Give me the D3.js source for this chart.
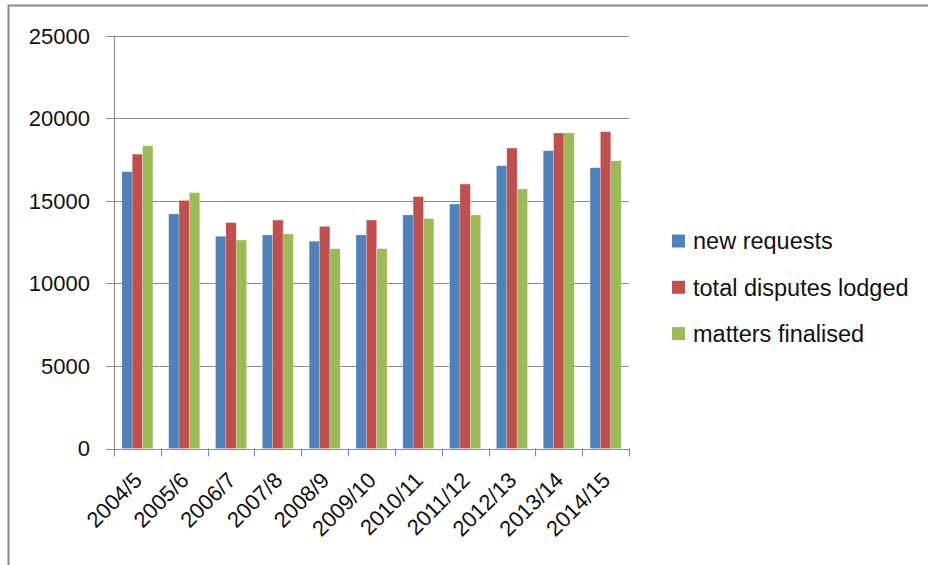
<!DOCTYPE html>
<html>
<head>
<meta charset="utf-8">
<script src="https://cdn.jsdelivr.net/npm/d3@7/dist/d3.min.js"></script>
<style>
  html, body { margin: 0; padding: 0; background: #fff; }
  svg { display: block; font-family: "Liberation Sans", Arial, sans-serif; }
</style>
</head>
<body>
<svg id="chart" width="928" height="565"></svg>
<script>
// Financial years shown on the x axis
const years = ["2004/5", "2005/6", "2006/7", "2007/8", "2008/9", "2009/10",
               "2010/11", "2011/12", "2012/13", "2013/14", "2014/15"];

// Series names and values
const seriesNames = ["new requests", "total disputes lodged", "matters finalised"];
const newRequests   = [16760, 14200, 12850, 12930, 12550, 12930, 14140, 14800, 17120, 18030, 17000];
const totalDisputes = [17820, 15020, 13680, 13830, 13450, 13830, 15250, 16010, 18190, 19100, 19180];
const mattersFinal  = [18330, 15490, 12620, 12990, 12100, 12100, 13920, 14140, 15710, 19100, 17420];
const seriesColors  = ["#4F81BD", "#C0504D", "#9BBB59"];

// Y axis ticks
const yTicks = [0, 5000, 10000, 15000, 20000, 25000];

const seriesValues = [newRequests, totalDisputes, mattersFinal];

const svg = d3.select("#chart");

// Outer chart frame (top and left edges)
svg.append("path")
  .attr("d", "M8.5,565 L8.5,5.5 L928,5.5")
  .attr("fill", "none")
  .attr("stroke", "#8a8a8a")
  .attr("stroke-width", 2);

const plot = { left: 114, right: 629, top: 35.6, bottom: 448.5 };

const x0 = d3.scaleBand()
  .domain(years)
  .range([plot.left, plot.right])
  .paddingInner(0)
  .paddingOuter(0);

const groupPad = (1 - 31 / 46.8) / 2;
const x1 = d3.scaleBand()
  .domain(d3.range(seriesNames.length))
  .range([x0.bandwidth() * groupPad, x0.bandwidth() * (1 - groupPad)]);

const y = d3.scaleLinear()
  .domain([0, 25000])
  .range([plot.bottom, plot.top]);

// Horizontal gridlines with tick stubs to the left of the axis
const grid = svg.append("g");
grid.selectAll("line")
  .data(yTicks)
  .join("line")
  .attr("x1", plot.left - 8)
  .attr("x2", plot.right)
  .attr("y1", d => Math.round(y(d)) + 0.5)
  .attr("y2", d => Math.round(y(d)) + 0.5)
  .attr("stroke", "#8c8c8c")
  .attr("stroke-width", 1.2);

// Y tick labels
svg.append("g")
  .selectAll("text")
  .data(yTicks)
  .join("text")
  .attr("x", 90)
  .attr("y", d => y(d))
  .attr("dy", "0.36em")
  .attr("text-anchor", "end")
  .attr("font-size", 22)
  .attr("fill", "#111")
  .text(d => d);

// Bars
const groups = svg.append("g")
  .selectAll("g")
  .data(years)
  .join("g")
  .attr("transform", d => `translate(${x0(d)},0)`);

groups.selectAll("rect")
  .data((d, i) => seriesValues.map((vals, s) => ({ s, v: vals[i] })))
  .join("rect")
  .attr("x", d => x1(d.s))
  .attr("width", x1.bandwidth())
  .attr("y", d => y(d.v))
  .attr("height", d => y(0) - y(d.v))
  .attr("fill", d => seriesColors[d.s])
  .attr("stroke", "rgba(255,255,255,0.35)")
  .attr("stroke-width", 0.6);

// Y axis line
svg.append("line")
  .attr("x1", plot.left + 0.5).attr("x2", plot.left + 0.5)
  .attr("y1", plot.top).attr("y2", plot.bottom)
  .attr("stroke", "#8c8c8c")
  .attr("stroke-width", 1.2);

// X axis line and category tick marks
svg.append("line")
  .attr("x1", plot.left).attr("x2", plot.right)
  .attr("y1", Math.round(plot.bottom) + 0.5).attr("y2", Math.round(plot.bottom) + 0.5)
  .attr("stroke", "#8c8c8c")
  .attr("stroke-width", 1.2);

const boundaries = years.map(d => x0(d)).concat([plot.right]);
svg.append("g")
  .selectAll("line")
  .data(boundaries)
  .join("line")
  .attr("x1", d => Math.round(d) + 0.5)
  .attr("x2", d => Math.round(d) + 0.5)
  .attr("y1", plot.bottom)
  .attr("y2", plot.bottom + 8)
  .attr("stroke", "#8c8c8c")
  .attr("stroke-width", 1.2);

// Rotated category labels
svg.append("g")
  .selectAll("text")
  .data(years)
  .join("text")
  .attr("transform", d => `translate(${x0(d) + x0.bandwidth() / 2 + 6},${plot.bottom + 33}) rotate(-45)`)
  .attr("text-anchor", "end")
  .attr("font-size", 22)
  .attr("fill", "#111")
  .text(d => d);

// Legend
const legend = svg.append("g")
  .selectAll("g")
  .data(seriesNames)
  .join("g")
  .attr("transform", (d, i) => `translate(672,${241 + i * 46.3})`);

legend.append("rect")
  .attr("x", 0).attr("y", -6.5)
  .attr("width", 13).attr("height", 13)
  .attr("fill", (d, i) => seriesColors[i]);

legend.append("text")
  .attr("x", 21)
  .attr("y", 0)
  .attr("dy", "0.35em")
  .attr("font-size", 23.5)
  .attr("fill", "#111")
  .text(d => d);
</script>
</body>
</html>
